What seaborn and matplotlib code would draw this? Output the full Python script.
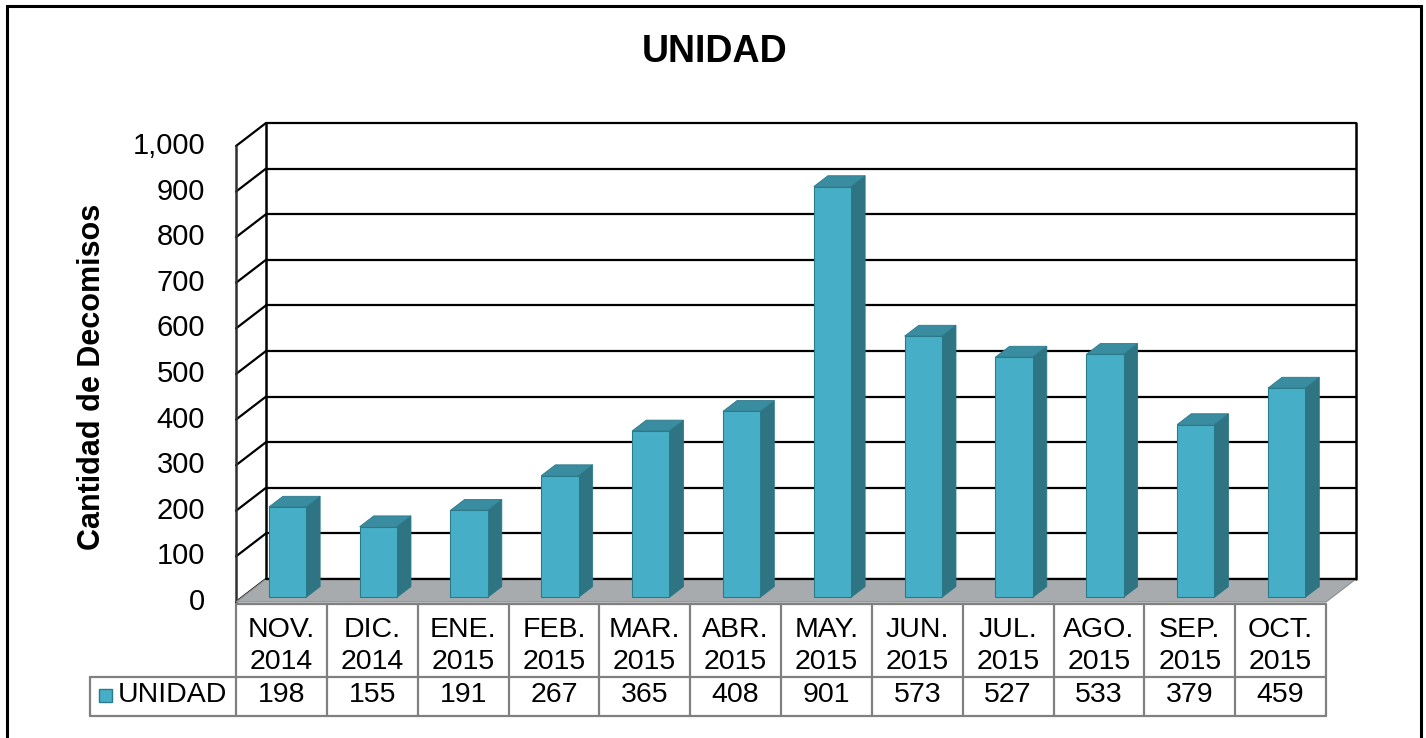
import numpy as np
import pandas as pd
import seaborn as sns
import matplotlib
matplotlib.use("Agg")
import matplotlib.pyplot as plt
from matplotlib.patches import Polygon, Rectangle
from matplotlib.lines import Line2D
from matplotlib.transforms import blended_transform_factory, offset_copy

# data
meses = ["NOV.\n2014", "DIC.\n2014", "ENE.\n2015", "FEB.\n2015", "MAR.\n2015", "ABR.\n2015",
         "MAY.\n2015", "JUN.\n2015", "JUL.\n2015", "AGO.\n2015", "SEP.\n2015", "OCT.\n2015"]
unidad = [198, 155, 191, 267, 365, 408, 901, 573, 527, 533, 379, 459]
yticks = list(range(0, 1001, 100))
serie = "UNIDAD"

W, H = 1426, 738
front_c = "#46AFC7"
top_c = "#3A8CA0"
side_c = "#2E7483"
edge_c = "#2B7A8A"
floor_c = "#A7ABAE"
grid_c = "#808080"

sns.set_style("white")
plt.rcParams['font.family'] = ['Liberation Sans', 'DejaVu Sans']
plt.rcParams['text.color'] = 'black'

fig = plt.figure(figsize=(W / 100, H / 100), dpi=100)
ax = fig.add_axes([236 / W, (H - 602) / H, 1090 / W, 456 / H])

df = pd.DataFrame({"mes": meses, serie: unidad})
sns.barplot(data=df, x="mes", y=serie, color=front_c, saturation=1, width=0.41,
            edgecolor=edge_c, linewidth=0.8, ax=ax)
ax.set_xlim(-0.5, len(meses) - 0.5)
ax.set_ylim(0, 1000)
ax.axis("off")

# pseudo 3d depth: 30 px right, 23 px up at the back wall
px_x = 1090 / len(meses)
px_y = 456 / 1000
DX = 30 / px_x
DY = 23 / px_y
x_l, x_r = -0.5, len(meses) - 0.5


def proj(x, y, d):
    return (x + d * DX, y + d * DY)


# back wall
ax.add_patch(Polygon([proj(x_l, 0, 1), proj(x_r, 0, 1), proj(x_r, 1000, 1), proj(x_l, 1000, 1)],
                     closed=True, facecolor="white", edgecolor="none", zorder=0, clip_on=False))
for v in yticks:
    a, b = proj(x_l, v, 1), proj(x_r, v, 1)
    ax.add_line(Line2D([a[0], b[0]], [a[1], b[1]], color="black", lw=1.6, zorder=2, clip_on=False))
    c = proj(x_l, v, 0)
    ax.add_line(Line2D([c[0], a[0]], [c[1], a[1]], color="black", lw=1.6, zorder=2, clip_on=False))
for xx, d, col in [(x_l, 1, "black"), (x_r, 1, "black"), (x_l, 0, "#303030")]:
    a, b = proj(xx, 0, d), proj(xx, 1000, d)
    ax.add_line(Line2D([a[0], b[0]], [a[1], b[1]], color=col, lw=1.8, zorder=2, clip_on=False))

# floor
ax.add_patch(Polygon([proj(x_l, 0, 0), proj(x_r, 0, 0), proj(x_r, 0, 1), proj(x_l, 0, 1)],
                     closed=True, facecolor=floor_c, edgecolor="#8a8e91", lw=0.8, zorder=3, clip_on=False))
a, b = proj(x_l, 0, 1), proj(x_r, 0, 1)
ax.add_line(Line2D([a[0], b[0]], [a[1], b[1]], color="black", lw=1.6, zorder=3.5, clip_on=False))

# bars: move the seaborn faces to their depth and add top and side
d0, d1 = 0.2, 0.67
for p in ax.patches:
    if not isinstance(p, Rectangle):
        continue
    x0, w, h = p.get_x(), p.get_width(), p.get_height()
    p.set_x(x0 + d0 * DX)
    p.set_y(d0 * DY)
    p.set_zorder(6)
    p.set_clip_on(False)
    side = [proj(x0 + w, 0, d0), proj(x0 + w, h, d0), proj(x0 + w, h, d1), proj(x0 + w, 0, d1)]
    top = [proj(x0, h, d0), proj(x0 + w, h, d0), proj(x0 + w, h, d1), proj(x0, h, d1)]
    ax.add_patch(Polygon(side, closed=True, facecolor=side_c, edgecolor=edge_c, lw=0.6,
                         zorder=5, clip_on=False))
    ax.add_patch(Polygon(top, closed=True, facecolor=top_c, edgecolor=edge_c, lw=0.6,
                         zorder=5, clip_on=False))

# y tick labels on the front axis
lab_tr = offset_copy(ax.transData, fig=fig, x=-31, y=0, units="dots")
for v in yticks:
    ax.text(x_l, v, f"{v:,}", transform=lab_tr, ha="right", va="center", fontsize=21)

# data table
tr = blended_transform_factory(ax.transData, fig.transFigure)


def fy(py):
    return 1 - py / H


for i in range(len(meses) + 1):
    fig.add_artist(Line2D([x_l + i, x_l + i], [fy(604), fy(716)], color=grid_c, lw=1.6, transform=tr))
for py in (604, 677, 716):
    fig.add_artist(Line2D([x_l, x_r], [fy(py), fy(py)], color=grid_c, lw=1.6, transform=tr))
for py in (677, 716):
    fig.add_artist(Line2D([90 / W, 236 / W], [fy(py), fy(py)], color=grid_c, lw=1.6,
                          transform=fig.transFigure))
fig.add_artist(Line2D([90 / W, 90 / W], [fy(677), fy(716)], color=grid_c, lw=1.6,
                      transform=fig.transFigure))

for i, (m, v) in enumerate(zip(meses, unidad)):
    fig.text(i, fy(646), m, transform=tr, ha="center", va="center", fontsize=20.5, linespacing=1.3)
    fig.text(i, fy(695), str(v), transform=tr, ha="center", va="center", fontsize=20.5)

fig.add_artist(Rectangle((99 / W, fy(702)), 13 / W, 13 / H, facecolor=front_c, edgecolor=edge_c,
                         lw=1, transform=fig.transFigure))
fig.text(118 / W, fy(695), serie, ha="left", va="center", fontsize=20.5)

# title, axis label, frame
fig.text(715 / W, fy(52), "UNIDAD", ha="center", va="center", fontsize=27, fontweight="bold")
fig.text(92 / W, fy(377), "Cantidad de Decomisos", ha="center", va="center", rotation=90,
         fontsize=22, fontweight="bold")
fig.add_artist(Rectangle((7 / W, -0.1), 1414 / W, 1.1 - 6 / H, facecolor="none", edgecolor="black",
                         lw=2.2, transform=fig.transFigure))

fig.savefig("out.png", dpi=100)
